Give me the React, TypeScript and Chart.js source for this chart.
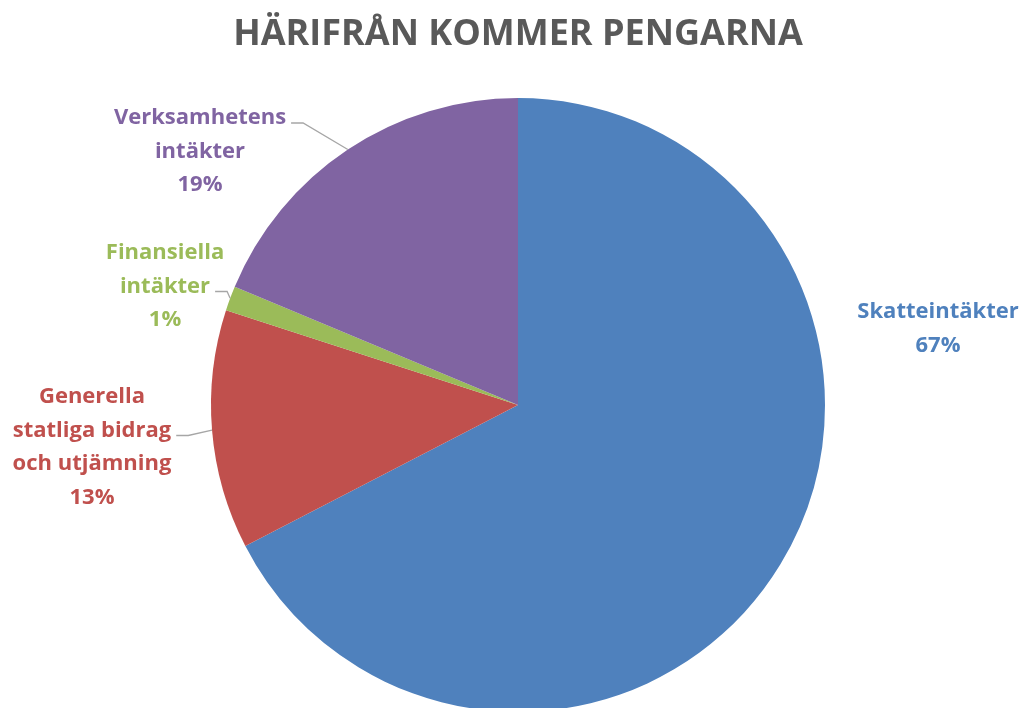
import React, { useEffect, useRef } from "react";
import { Chart, registerables } from "chart.js";

Chart.register(...registerables);

const TITLE = "HÄRIFRÅN KOMMER PENGARNA";
const categories = ["Skatteintäkter", "Generella statliga bidrag och utjämning", "Finansiella intäkter", "Verksamhetens intäkter"];
const labelLines = [["Skatteintäkter"], ["Generella", "statliga bidrag", "och utjämning"], ["Finansiella", "intäkter"], ["Verksamhetens", "intäkter"]];
const values = [67.4, 12.6, 1.3, 18.7];
const colors = ["#4F81BD", "#C0504D", "#9BBB59", "#8064A2"];

// label placement (style): text centre offset from pie centre, first-line offset, leader line index
const labelLayout = [
  { dx: 420, dy: -93, leaderLine: -1 },
  { dx: -426, dy: -8, leaderLine: 1 },
  { dx: -353, dy: -152, leaderLine: 1 },
  { dx: -318, dy: -287, leaderLine: 0 },
];

const FONT = "'Open Sans', Lato, sans-serif";
const LINE_H = 33.5;

const labelPlugin = {
  id: "outsideLabels",
  afterDraw(chart: any) {
    const ctx = chart.ctx;
    const meta = chart.getDatasetMeta(0);
    const total = values.reduce((a, b) => a + b, 0);
    ctx.save();
    ctx.font = `bold 22px ${FONT}`;
    ctx.textAlign = "center";
    ctx.textBaseline = "middle";
    meta.data.forEach((arc: any, i: number) => {
      const lay = labelLayout[i];
      const cx = arc.x + lay.dx;
      const lines = [...labelLines[i], Math.round((values[i] / total) * 100) + "%"];
      const y0 = arc.y + lay.dy;
      ctx.fillStyle = colors[i];
      lines.forEach((t, k) => ctx.fillText(t, cx, y0 + k * LINE_H));
      if (lay.leaderLine >= 0) {
        const t = lines[lay.leaderLine];
        const w = ctx.measureText(t).width;
        const ly = y0 + lay.leaderLine * LINE_H + 5;
        const x1 = cx + w / 2 + 5;
        const x2 = x1 + 12;
        const mid = (arc.startAngle + arc.endAngle) / 2;
        const ex = arc.x + Math.cos(mid) * arc.outerRadius;
        const ey = arc.y + Math.sin(mid) * arc.outerRadius;
        ctx.strokeStyle = "#A6A6A6";
        ctx.lineWidth = 1.3;
        ctx.beginPath();
        ctx.moveTo(x1, ly);
        ctx.lineTo(x2, ly);
        ctx.lineTo(ex, ey);
        ctx.stroke();
      }
    });
    ctx.restore();
  },
};

export default function App() {
  const ref = useRef<HTMLCanvasElement | null>(null);
  useEffect(() => {
    document.body.style.margin = "0";
    const chart = new Chart(ref.current as HTMLCanvasElement, {
      type: "pie",
      data: {
        labels: categories,
        datasets: [
          {
            data: values,
            backgroundColor: colors,
            borderWidth: 0,
          },
        ],
      },
      options: {
        animation: false,
        responsive: false,
        maintainAspectRatio: false,
        layout: { padding: { top: 0, bottom: 2, left: 17, right: 0 } },
        plugins: {
          legend: { display: false },
          tooltip: { enabled: false },
          title: {
            display: true,
            text: TITLE,
            color: "#595959",
            font: { family: FONT, size: 36, weight: "bold", lineHeight: 1.2 },
            padding: { top: 13, bottom: 41.8 },
          },
        },
      },
      plugins: [labelPlugin],
    });
    return () => chart.destroy();
  }, []);
  return (
    <div style={{ width: 1019, height: 708, overflow: "hidden", background: "#fff" }}>
      <canvas ref={ref} width={1019} height={714} style={{ display: "block" }} />
    </div>
  );
}
